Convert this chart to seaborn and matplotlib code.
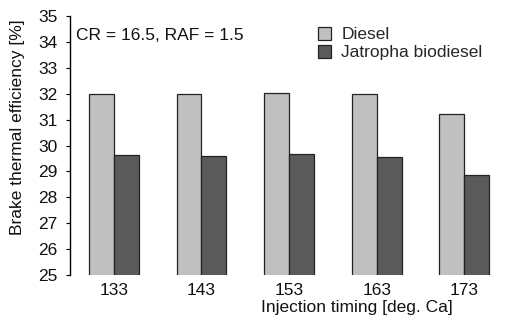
import matplotlib
matplotlib.use("Agg")
import matplotlib.pyplot as plt
import seaborn as sns
import pandas as pd

timings = ["133", "143", "153", "163", "173"]
diesel = [32.0, 32.0, 32.03, 32.0, 31.2]
jatropha = [29.63, 29.6, 29.67, 29.56, 28.86]
series_names = ["Diesel", "Jatropha biodiesel"]
colors = ["#c0c0c0", "#5a5a5a"]

df = pd.DataFrame({
    "timing": timings * 2,
    "bte": diesel + jatropha,
    "fuel": [series_names[0]] * len(timings) + [series_names[1]] * len(timings),
})

sns.set_style("white")
plt.rcParams["font.family"] = ["Liberation Sans", "DejaVu Sans"]
FS = 12.5

fig = plt.figure(figsize=(5.08, 3.21), dpi=100)
ax = fig.add_axes([0.138, 0.143, 0.862, 0.807])

sns.barplot(data=df, x="timing", y="bte", hue="fuel", palette=colors,
            width=0.57, edgecolor="#222222", linewidth=0.9, ax=ax)

ax.set_ylim(25, 35)
ax.set_xlim(-0.5, 4.5)
ax.set_yticks(range(25, 36))
ax.tick_params(axis="y", which="both", left=True, length=3, width=0.8,
               labelsize=FS, pad=6, color="black", labelcolor="#111111")
ax.tick_params(axis="x", length=0, labelsize=FS, pad=6, labelcolor="#111111")

for s in ["top", "right", "bottom"]:
    ax.spines[s].set_visible(False)
ax.spines["left"].set_color("black")
ax.spines["left"].set_linewidth(1.0)

ax.set_ylabel("Brake thermal efficiency [%]", fontsize=FS, color="#111111")
ax.yaxis.set_label_coords(-0.103, 0.57)
ax.set_xlabel("Injection timing [deg. Ca]", fontsize=FS, color="#111111")
ax.xaxis.set_label_coords(0.655, -0.098)

ax.text(0.014, 0.955, "CR = 16.5, RAF = 1.5", transform=ax.transAxes,
        fontsize=FS, va="top", ha="left", color="#111111")

handles, labels = ax.get_legend_handles_labels()
ax.legend(handles, labels, loc="upper left", bbox_to_anchor=(0.55, 0.985),
          frameon=False, fontsize=FS, handlelength=0.75, handleheight=0.75,
          handletextpad=0.6, labelspacing=0.15, borderaxespad=0)

fig.savefig("out.png", dpi=100)
